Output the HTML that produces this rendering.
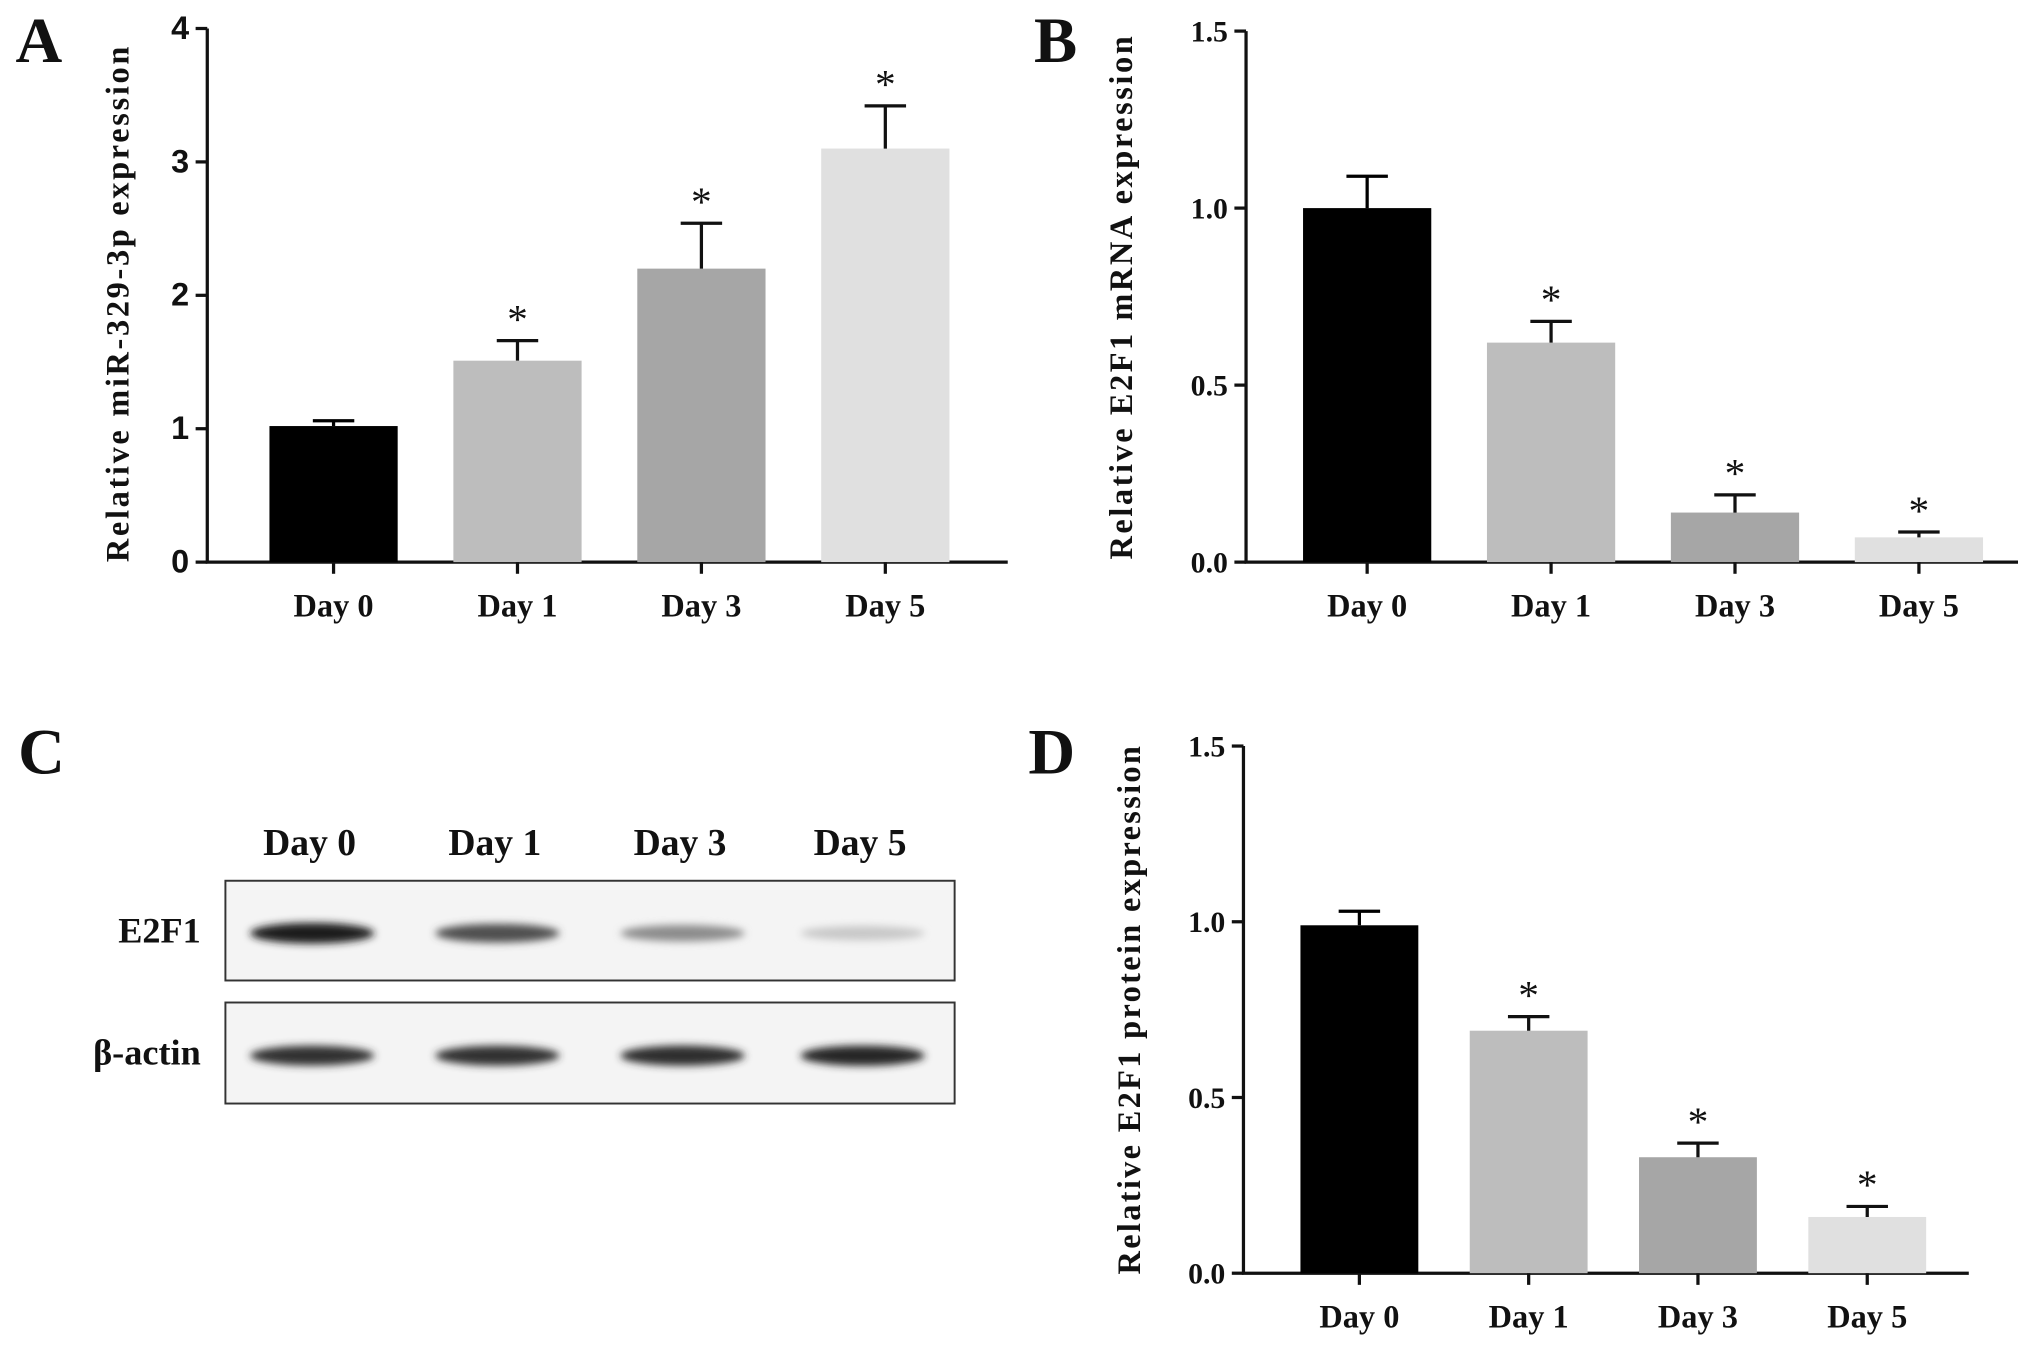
<!DOCTYPE html>
<html><head><meta charset="utf-8"><style>
html,body{margin:0;padding:0;background:#fff;}
svg{display:block;}
text{font-family:"Liberation Serif",serif;font-weight:bold;fill:#111;}
</style></head><body>
<svg id="fig" width="2031" height="1346" viewBox="0 0 1568 1039.2" xmlns="http://www.w3.org/2000/svg">
<defs>
<filter id="blur" x="-20%" y="-100%" width="140%" height="300%"><feGaussianBlur stdDeviation="3"/></filter>
</defs>
<g id="root"></g>
</svg>
<script>
const categories = ["Day 0","Day 1","Day 3","Day 5"];
const colors = ["#000000","#bdbdbd","#a6a6a6","#e0e0e0"];
const aValues = [1.02, 1.51, 2.2, 3.1];
const aErrors = [0.04, 0.15, 0.34, 0.32];
const aTicks = [0,1,2,3,4];
const aTickLabels = ["0","1","2","3","4"];
const bValues = [1.0, 0.62, 0.14, 0.07];
const bErrors = [0.09, 0.06, 0.05, 0.015];
const bTicks = [0,0.5,1.0,1.5];
const bTickLabels = ["0.0","0.5","1.0","1.5"];
const dValues = [0.99, 0.69, 0.33, 0.16];
const dErrors = [0.04, 0.04, 0.04, 0.03];
const dTicks = [0,0.5,1.0,1.5];
const dTickLabels = ["0.0","0.5","1.0","1.5"];
const aStars = [false,true,true,true];
const bStars = [false,true,true,true];
const dStars = [false,true,true,true];
const blotE2F1 = [1.0, 0.75, 0.45, 0.15];
const blotActin = [0.9, 0.9, 0.92, 0.95];

const NS="http://www.w3.org/2000/svg";
const root=document.getElementById('root');
function el(tag,attrs,parent){const e=document.createElementNS(NS,tag);for(const k in attrs)e.setAttribute(k,attrs[k]);(parent||root).appendChild(e);return e;}
function txt(s,attrs,parent){const t=el('text',attrs,parent);t.textContent=s;return t;}

function chart(cfg){
  const g=el('g',{});
  
  
  const y=v=>cfg.y0-(v-cfg.vmin)/(cfg.vmax-cfg.vmin)*(cfg.y0-cfg.y1);
  const ax=el('path',{d:`M${cfg.ax} ${cfg.y1} V${cfg.y0} H${cfg.xEnd}`,stroke:'#111','stroke-width':2.5,fill:'none'},g);
  
  
  cfg.ticks.forEach((t,i)=>{
    el('line',{x1:cfg.ax-9,x2:cfg.ax,y1:y(t),y2:y(t),stroke:'#111','stroke-width':2.5},g);
    const tl=txt(cfg.tickLabels[i],{x:cfg.ax-14,y:y(t)+8,'text-anchor':'end','font-size':cfg.tickFont,style:cfg.sansTicks?'font-family:"Liberation Sans",sans-serif':''},g);
    
    
  });
  cfg.values.forEach((v,i)=>{
    const x=cfg.barX[0]+i*cfg.step, cx=x+cfg.bw/2;
    const r=el('rect',{x:x,y:y(v),width:cfg.bw,height:cfg.y0-y(v),fill:colors[i]},g);
    
    
    const e=cfg.errors[i];
    const eb=el('path',{d:`M${cx} ${y(v)} V${y(v+e)} M${cx-16} ${y(v+e)} H${cx+16}`,stroke:i===0?'#000':'#111','stroke-width':2.5,fill:'none'},g);
    
    
    el('line',{x1:cx,x2:cx,y1:cfg.y0,y2:cfg.y0+9,stroke:'#111','stroke-width':2.5},g);
    const xl=txt(categories[i],{x:cx,y:cfg.y0+42,'text-anchor':'middle','font-size':25},g);
    
    
    if(cfg.stars[i]){
      const s=txt('*',{x:cx,y:y(v+e)-6,'text-anchor':'middle','font-size':32,style:'font-weight:normal'},g);
      
      
    }
  });
  const yt=txt(cfg.ylabel,{x:0,y:0,'text-anchor':'middle','font-size':25,textLength:cfg.ylen,lengthAdjust:'spacing',transform:`translate(${cfg.ylx},${cfg.yly}) rotate(-90)`},g);
  
  
  const pl=txt(cfg.letter,{x:cfg.lx,y:cfg.ly,'font-size':50,'text-anchor':'middle'},g);
  
  
}

chart({name:'chart-a',ax:160,y0:434,y1:22,vmin:0,vmax:4,xEnd:778,ticks:aTicks,tickLabels:aTickLabels,tickFont:25,sansTicks:true,
  values:aValues,errors:aErrors,stars:aStars,barX:[208],step:142,bw:99,ylabel:'Relative miR-329-3p expression',ylen:398,ylx:99,yly:235,letter:'A',lx:30,ly:48});
chart({name:'chart-b',ax:962,y0:434,y1:24,vmin:0,vmax:1.5,xEnd:1558,ticks:bTicks,tickLabels:bTickLabels,tickFont:23,
  values:bValues,errors:bErrors,stars:bStars,barX:[1006],step:142,bw:99,ylabel:'Relative E2F1 mRNA expression',ylen:404,ylx:874,yly:230,letter:'B',lx:815,ly:48});
chart({name:'chart-d',ax:960,y0:983,y1:576,vmin:0,vmax:1.5,xEnd:1520,ticks:dTicks,tickLabels:dTickLabels,tickFont:23,
  values:dValues,errors:dErrors,stars:dStars,barX:[1004],step:130.7,bw:91,ylabel:'Relative E2F1 protein expression',ylen:408,ylx:880,yly:780,letter:'D',lx:812,ly:597});

// Panel C western blot
const gc=el('g',{});


const lc=txt('C',{x:32,y:597,'font-size':50,'text-anchor':'middle'},gc);


const laneX=[239,382,525,664];
categories.forEach((c,i)=>{
  const t=txt(c,{x:laneX[i],y:660,'text-anchor':'middle','font-size':29},gc);
  
  
});
[[680,757,'E2F1',blotE2F1,'e2f1-blot'],[774,852,'β-actin',blotActin,'actin-blot']].forEach(([t,b,lab,vals,nm])=>{
  const box=el('rect',{x:174,y:t,width:563,height:b-t,fill:'#f4f4f4',stroke:'#333','stroke-width':1.5},gc);
  
  
  const l=txt(lab,{x:155,y:(t+b)/2+9,'text-anchor':'end','font-size':28},gc);
  
  
  vals.forEach((v,i)=>{
    const shade=Math.round(230-200*v);
    const e=el('ellipse',{cx:laneX[i]+2,cy:(t+b)/2+2,rx:48,ry:5+3*v,fill:`rgb(${shade},${shade},${shade})`,filter:'url(#blur)'},gc);
    
    
  });
});
</script>
</body></html>
